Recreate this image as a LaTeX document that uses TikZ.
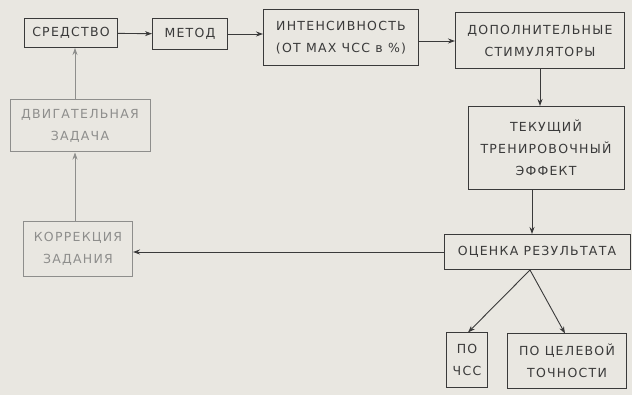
\documentclass[tikz,border=0pt]{standalone}
\usepackage{fontspec}
\setmainfont[LetterSpace=10]{DejaVu Sans}
\usetikzlibrary{arrows.meta}
\definecolor{bg}{HTML}{E9E7E1}
\definecolor{ink}{HTML}{3A3A3A}
\definecolor{faded}{HTML}{8E8E8C}
\tikzset{
  box/.style={draw=ink, line width=1pt, text=ink, align=center, inner sep=0pt, font=\fontsize{12.5}{22}\selectfont},
  fbox/.style={box, draw=faded, text=faded},
  conn/.style={draw=ink, line width=0.9pt, -{Stealth[length=7pt,width=5pt]}},
  fconn/.style={conn, draw=faded, line width=0.7pt},
}
\begin{document}
\begin{tikzpicture}[x=1pt,y=-1pt]
\fill[bg] (0,0) rectangle (632,395);
\useasboundingbox (0,0) rectangle (632,395);
\node[box, minimum width=93pt, minimum height=29pt] (sr) at (71,33) {СРЕДСТВО};
\node[box, minimum width=75pt, minimum height=31pt] (me) at (190,34) {МЕТОД};
\node[box, minimum width=155pt, minimum height=56pt] (in) at (341,38) {ИНТЕНСИВНОСТЬ\\(ОТ МАХ ЧСС в \%)};
\node[box, minimum width=169pt, minimum height=56pt] (dop) at (540,41) {ДОПОЛНИТЕЛЬНЫЕ\\СТИМУЛЯТОРЫ};
\node[box, minimum width=156pt, minimum height=83pt] (tek) at (546,148) {ТЕКУЩИЙ\\ТРЕНИРОВОЧНЫЙ\\ЭФФЕКТ};
\node[box, minimum width=186pt, minimum height=35pt] (oc) at (537,252) {ОЦЕНКА РЕЗУЛЬТАТА};
\node[box, minimum width=41pt, minimum height=54pt] (chss) at (467,360) {ПО\\ЧСС};
\node[box, minimum width=119pt, minimum height=54pt] (cel) at (567,361) {ПО ЦЕЛЕВОЙ\\ТОЧНОСТИ};
\node[fbox, minimum width=140pt, minimum height=52pt] (dz) at (80,126) {ДВИГАТЕЛЬНАЯ\\ЗАДАЧА};
\node[fbox, minimum width=109pt, minimum height=55pt] (kor) at (78,249) {КОРРЕКЦИЯ\\ЗАДАНИЯ};
\draw[conn] (sr) -- (me);
\draw[conn] (me.east) -- (me.east -| in.west);
\draw[conn] (in.east |- dop) -- (dop.west);
\draw[conn] (dop.south -| 540,0) -- (tek.north -| 540,0);
\draw[conn] (tek.south -| 532,0) -- (oc.north -| 532,0);
\draw[conn] (oc.west) -- (oc.west -| kor.east);
\draw[conn] ([xshift=-7pt]oc.south) -- ([xshift=1pt]chss.north);
\draw[conn] ([xshift=-7pt]oc.south) -- ([xshift=-2pt]cel.north);
\draw[fconn] (kor.north -| 75,0) -- (dz.south -| 75,0);
\draw[fconn] (dz.north -| 75,0) -- (sr.south -| 75,0);
\end{tikzpicture}
\end{document}
